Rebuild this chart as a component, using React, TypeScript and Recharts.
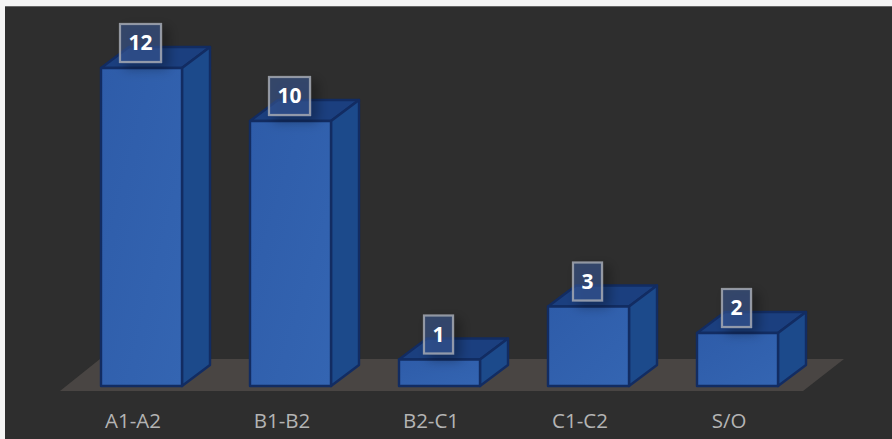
import React from "react";
import { BarChart, Bar, XAxis, YAxis, LabelList, ReferenceArea } from "recharts";

const levels = ["A1-A2", "B1-B2", "B2-C1", "C1-C2", "S/O"];
const counts = [12, 10, 1, 3, 2];

const data = levels.map((level, i) => ({ level, count: counts[i] }));

// depth of the extruded box
const DEPTH_X = 28;
const DEPTH_Y = 21;

const Box3D = (props: any) => {
  const { x, y, width, height } = props;
  const r = x + width;
  const b = y + height;
  return (
    <g stroke="#122c62" strokeWidth={2.4} strokeLinejoin="round">
      <polygon
        points={`${x},${y} ${x + DEPTH_X},${y - DEPTH_Y} ${r + DEPTH_X},${y - DEPTH_Y} ${r},${y}`}
        fill="#1b3f7f"
      />
      <polygon
        points={`${r},${y} ${r + DEPTH_X},${y - DEPTH_Y} ${r + DEPTH_X},${b - DEPTH_Y} ${r},${b}`}
        fill="#1c4a8b"
      />
      <rect x={x} y={y} width={width} height={height} fill="url(#frontFace)" />
    </g>
  );
};

const Floor = (props: any) => {
  const { x, y, width, height } = props;
  const b = y + height;
  return (
    <polygon
      points={`${x - 7},${b} ${x + 33},${y} ${x + width + 32},${y} ${x + width - 9},${b}`}
      fill="#494543"
    />
  );
};

const ValueBox = (props: any) => {
  const { x, y, width, value } = props;
  const w = String(value).length > 1 ? 41 : 29;
  const cx = x + width / 2 - 1;
  return (
    <g>
      <rect
        x={cx - w / 2}
        y={y - 44}
        width={w}
        height={38}
        fill="#3a5a98"
        fillOpacity={0.55}
        stroke="#a3a8b2"
        strokeOpacity={0.85}
        strokeWidth={2.2}
        filter="url(#boxShadow)"
      />
      <text
        x={cx}
        y={y - 18}
        textAnchor="middle"
        fontFamily="'Open Sans', sans-serif"
        fontWeight={700}
        fontSize={21}
        fill="#ffffff"
      >
        {value}
      </text>
    </g>
  );
};

export default function App() {
  return (
    <div style={{ position: "absolute", left: 0, top: 0, width: 892, height: 439, background: "#f4f4f4", overflow: "hidden" }}>
      <div
        style={{
          position: "absolute",
          left: 5,
          top: 6,
          width: 887,
          height: 433,
          background: "#2e2e2e",
          borderTop: "1px solid #666",
          boxSizing: "border-box",
        }}
      />
      <div style={{ position: "absolute", left: 0, top: 0 }}>
        <BarChart
          width={892}
          height={439}
          data={data}
          barSize={81}
          margin={{ top: 41.5, right: 80, bottom: 0, left: 67 }}
        >
          <defs>
            <linearGradient id="frontFace" x1="0" y1="0" x2="1" y2="1">
              <stop offset="0%" stopColor="#2e5ca9" />
              <stop offset="100%" stopColor="#3465b2" />
            </linearGradient>
            <filter id="boxShadow" x="-60%" y="-60%" width="220%" height="220%">
              <feDropShadow dx={6} dy={5} stdDeviation={6} floodColor="#000000" floodOpacity={0.5} />
            </filter>
          </defs>
          <XAxis
            dataKey="level"
            axisLine={false}
            tickLine={false}
            height={26.5}
            interval={0}
            tickMargin={0}
            dx={-8.5}
            dy={-5}
            tick={{ fill: "#b4b4b4", fontSize: 20.5, fontFamily: "'Open Sans', sans-serif" }}
          />
          <YAxis hide domain={[-1, 13]} />
          <ReferenceArea y1={-0.19} y2={1.02} ifOverflow="visible" shape={Floor} />
          <Bar dataKey="count" shape={Box3D} isAnimationActive={false}>
            <LabelList dataKey="count" content={ValueBox} />
          </Bar>
        </BarChart>
      </div>
    </div>
  );
}
